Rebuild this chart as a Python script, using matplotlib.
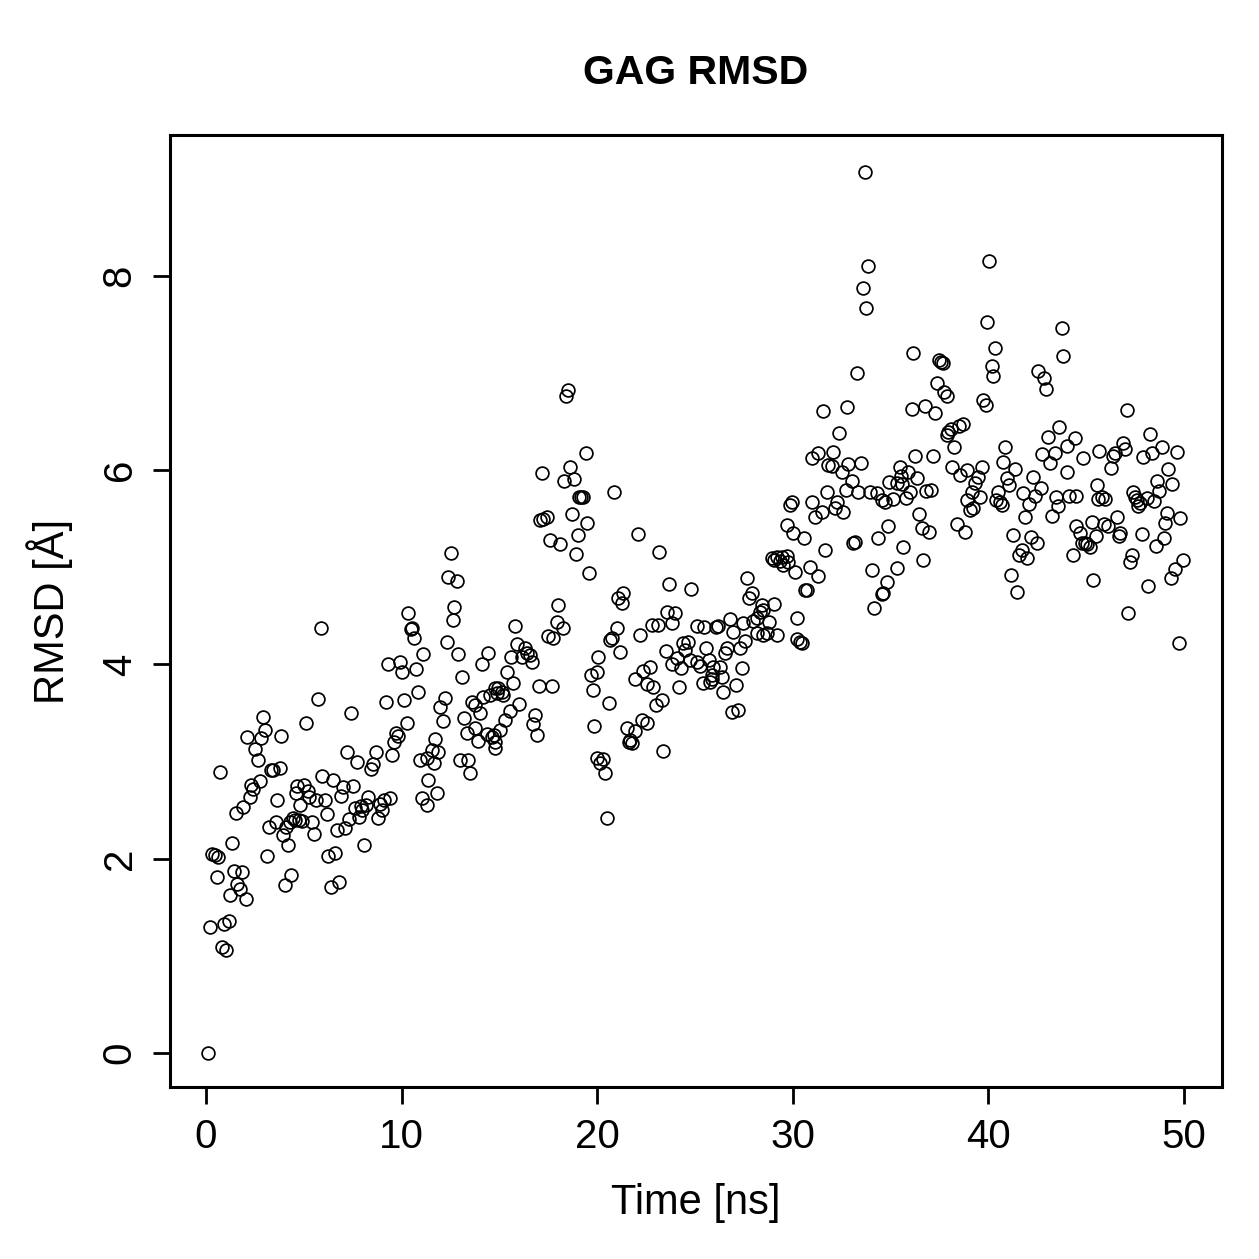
import matplotlib
matplotlib.use("Agg")
import matplotlib.pyplot as plt

plt.rcParams['font.family'] = ['Liberation Sans', 'DejaVu Sans']

# ---- data (time in ns, RMSD in Angstrom) ----
t_00_05 = [0.1, 0.2, 0.3, 0.45, 0.6, 0.55, 0.7, 0.8, 1.0, 0.9, 1.2, 1.25, 1.35, 1.45, 1.55, 1.6,
           1.75, 1.85, 1.9, 2.05, 2.1, 2.25, 2.3, 2.4, 2.5, 2.65, 2.75, 2.8, 2.9, 3.0, 3.1, 3.2,
           3.3, 3.45, 3.6, 3.65, 3.8, 3.85, 3.95, 4.05, 4.2, 4.3, 4.35, 4.45, 4.6, 4.65, 4.75,
           4.8, 4.9, 5.0, 4.1, 4.55]
r_00_05 = [0.00, 1.30, 2.05, 2.04, 2.02, 1.81, 2.89, 1.09, 1.06, 1.33, 1.36, 1.63, 2.16, 1.87, 2.47, 1.74,
           1.69, 1.86, 2.53, 1.59, 3.25, 2.64, 2.76, 2.72, 3.13, 3.02, 2.80, 3.24, 3.46, 3.32, 2.03, 2.33,
           2.91, 2.91, 2.38, 2.60, 2.93, 3.26, 2.24, 1.73, 2.14, 2.38, 1.83, 2.42, 2.68, 2.75, 2.40,
           2.55, 2.39, 2.76, 2.33, 2.40]

t_05_10 = [5.1, 5.25, 5.4, 5.5, 5.6, 5.75, 5.9, 5.95, 6.1, 6.2, 6.25, 6.4, 6.5, 6.6, 6.7, 6.8,
           6.9, 7.0, 7.1, 7.2, 7.3, 7.4, 7.5, 7.6, 7.7, 7.8, 7.9, 8.0, 8.1, 8.2, 8.3, 8.45,
           8.55, 8.7, 8.8, 8.9, 9.0, 9.1, 9.2, 9.3, 9.4, 9.5, 9.6, 9.7, 9.8, 9.9, 10.0, 10.1, 5.2]
r_05_10 = [3.40, 2.64, 2.38, 2.25, 2.60, 3.64, 4.38, 2.85, 2.60, 2.46, 2.03, 1.71, 2.81, 2.06, 2.30, 1.76,
           2.65, 2.74, 2.32, 3.10, 2.41, 3.50, 2.75, 2.52, 3.00, 2.43, 2.54, 2.50, 2.14, 2.55, 2.64, 2.92,
           2.98, 3.10, 2.42, 2.56, 2.50, 2.60, 3.61, 4.00, 2.62, 3.07, 3.20, 3.29, 3.26, 4.03, 3.92, 3.63, 2.70]

t_10_15 = [12.5, 12.35, 12.85, 12.7, 12.65, 10.35, 10.5, 10.55, 10.65, 12.3, 12.9, 11.1, 14.4, 14.1,
           10.75, 13.1, 10.85, 12.2, 11.95, 12.1, 13.6, 13.75, 14.0, 14.15, 14.5, 14.75, 14.9, 13.2,
           13.35, 13.75, 13.9, 14.35, 14.6, 14.75, 14.8, 10.3, 11.7, 11.55, 11.85, 11.3, 10.95, 11.65,
           13.0, 13.4, 13.5, 11.35, 11.8, 11.05, 11.3, 14.7]
r_10_15 = [5.15, 4.90, 4.86, 4.59, 4.46, 4.53, 4.36, 4.38, 4.27, 4.23, 4.11, 4.11, 4.12, 4.00,
           3.95, 3.87, 3.72, 3.65, 3.56, 3.42, 3.61, 3.58, 3.50, 3.66, 3.69, 3.76, 3.71, 3.45,
           3.29, 3.35, 3.21, 3.28, 3.25, 3.14, 3.20, 3.40, 3.23, 3.12, 3.10, 3.04, 3.02, 2.99,
           3.02, 3.02, 2.88, 2.81, 2.68, 2.63, 2.55, 3.27]

t_15_20 = [18.5, 18.4, 19.45, 17.2, 18.6, 18.3, 18.8, 19.05, 19.25, 19.15, 17.1, 17.25, 17.45, 18.7,
           19.5, 19.0, 17.6, 18.1, 18.9, 19.6, 18.0, 17.95, 18.25, 17.5, 17.75, 15.8, 15.9, 16.3,
           16.4, 16.55, 16.15, 16.65, 15.6, 15.4, 15.7, 14.95, 15.2, 15.15, 17.0, 17.7, 16.0, 15.55,
           15.3, 15.05, 16.8, 16.7, 16.9, 19.7, 20.0, 19.8, 20.05, 19.85, 20.0, 20.15]
r_15_20 = [6.83, 6.76, 6.18, 5.97, 6.03, 5.89, 5.91, 5.72, 5.72, 5.72, 5.49, 5.50, 5.52, 5.55,
           5.46, 5.33, 5.28, 5.24, 5.14, 4.94, 4.61, 4.44, 4.38, 4.29, 4.27, 4.40, 4.21, 4.17,
           4.12, 4.10, 4.08, 4.03, 4.08, 3.92, 3.81, 3.76, 3.69, 3.72, 3.78, 3.78, 3.59, 3.52,
           3.43, 3.32, 3.48, 3.39, 3.27, 3.89, 3.92, 3.74, 4.08, 3.37, 3.04, 2.99]

t_20_25 = [20.85, 22.1, 23.15, 23.65, 24.8, 21.05, 21.3, 21.25, 23.55, 24.0, 23.8, 22.8, 23.1, 25.1,
           21.0, 20.75, 20.65, 22.2, 21.15, 23.5, 24.4, 24.65, 24.5, 24.1, 23.8, 24.3, 24.75, 25.1,
           25.25, 22.35, 22.7, 21.95, 22.55, 22.85, 23.0, 23.3, 24.2, 20.6, 22.3, 22.55, 21.5, 21.95,
           21.7, 21.6, 21.8, 23.35, 20.3, 20.4, 20.5]
r_20_25 = [5.77, 5.34, 5.16, 4.83, 4.78, 4.68, 4.74, 4.63, 4.54, 4.53, 4.43, 4.41, 4.41, 4.40,
           4.38, 4.27, 4.25, 4.30, 4.13, 4.14, 4.22, 4.23, 4.15, 4.07, 4.00, 3.96, 4.05, 4.03,
           3.98, 3.93, 3.97, 3.85, 3.80, 3.77, 3.58, 3.63, 3.77, 3.60, 3.43, 3.40, 3.35, 3.31,
           3.22, 3.20, 3.19, 3.11, 3.03, 2.88, 2.42]

t_25_30 = [28.95, 29.05, 29.2, 29.35, 29.45, 29.5, 29.7, 29.75, 30.1, 27.65, 27.9, 27.75, 28.4, 29.05,
           28.3, 28.15, 28.5, 30.2, 26.8, 27.45, 27.95, 28.8, 25.45, 26.05, 26.2, 28.7, 29.2, 28.15,
           28.45, 26.95, 30.2, 30.35, 27.55, 27.3, 26.65, 26.55, 25.55, 25.7, 25.9, 26.3, 25.85,
           26.4, 27.4, 25.4, 25.75, 25.85, 27.1, 26.45, 26.9, 27.2]
r_25_30 = [5.10, 5.07, 5.11, 5.06, 5.11, 5.02, 5.12, 5.05, 4.95, 4.89, 4.74, 4.68, 4.61, 4.62,
           4.54, 4.48, 4.56, 4.48, 4.47, 4.43, 4.45, 4.44, 4.39, 4.39, 4.40, 4.32, 4.30, 4.32,
           4.30, 4.33, 4.26, 4.23, 4.24, 4.17, 4.17, 4.12, 4.17, 4.05, 3.97, 3.97, 3.89,
           3.87, 3.96, 3.81, 3.82, 3.85, 3.79, 3.72, 3.51, 3.53]

t_30_35 = [33.7, 33.85, 33.6, 33.75, 33.3, 31.55, 32.75, 32.35, 31.3, 31.0, 32.05, 31.8, 32.0, 32.8,
           33.5, 32.5, 33.0, 32.7, 34.9, 31.75, 33.35, 33.95, 34.3, 34.55, 34.7, 29.95, 29.85, 31.0,
           32.25, 31.5, 31.15, 32.15, 32.55, 29.7, 30.0, 30.55, 34.85, 34.35, 33.1, 33.2, 31.65,
           30.9, 31.3, 34.05, 30.7, 30.6, 34.8, 34.6, 34.55, 34.15, 30.45]
r_30_35 = [9.07, 8.10, 7.88, 7.67, 7.00, 6.61, 6.65, 6.38, 6.18, 6.13, 6.19, 6.05, 6.04, 6.06,
           6.07, 5.98, 5.89, 5.80, 5.88, 5.78, 5.77, 5.77, 5.76, 5.69, 5.67, 5.67, 5.64, 5.67,
           5.67, 5.57, 5.52, 5.61, 5.57, 5.44, 5.35, 5.30, 5.42, 5.30, 5.25, 5.26, 5.18,
           5.00, 4.91, 4.97, 4.77, 4.77, 4.85, 4.74, 4.72, 4.58, 4.22]

t_35_40 = [36.15, 37.45, 37.55, 37.7, 37.35, 37.75, 37.9, 36.1, 36.75, 37.25, 37.95, 38.1, 38.5, 38.7,
           37.9, 38.25, 36.25, 37.15, 35.5, 35.9, 36.35, 35.55, 35.35, 35.6, 36.0, 35.8, 35.1,
           38.15, 38.55, 38.9, 39.65, 39.45, 39.3, 39.15, 38.9, 39.55, 39.05, 39.2, 36.8, 37.05,
           36.45, 36.6, 36.95, 38.4, 38.8, 35.65, 36.65, 35.3, 39.7, 39.9]
r_35_40 = [7.21, 7.13, 7.11, 7.10, 6.90, 6.80, 6.76, 6.63, 6.66, 6.59, 6.39, 6.42, 6.45, 6.47,
           6.36, 6.24, 6.15, 6.15, 6.03, 5.98, 5.92, 5.94, 5.87, 5.86, 5.78, 5.71, 5.70,
           6.03, 5.95, 6.00, 6.03, 5.93, 5.87, 5.77, 5.69, 5.72, 5.59, 5.61, 5.79, 5.80,
           5.55, 5.40, 5.36, 5.45, 5.36, 5.21, 5.07, 4.99, 6.72, 6.67]

t_40_45 = [40.05, 39.95, 43.75, 40.35, 40.2, 40.25, 43.8, 42.55, 42.85, 42.95, 43.6, 43.05, 44.4, 44.0,
           44.85, 40.85, 42.75, 43.4, 43.15, 44.0, 40.75, 41.35, 40.95, 41.05, 42.3, 42.7, 42.4,
           41.75, 42.05, 41.85, 40.5, 40.6, 40.4, 40.7, 43.45, 43.55, 43.25, 44.1, 44.5, 44.5,
           44.7, 44.8, 44.95, 45.05, 41.25, 42.2, 42.5, 41.7, 41.55, 41.95, 44.3, 41.15, 41.45]
r_40_45 = [8.15, 7.52, 7.46, 7.26, 7.07, 6.97, 7.18, 7.02, 6.95, 6.84, 6.44, 6.34, 6.33, 6.25,
           6.12, 6.24, 6.17, 6.18, 6.07, 5.98, 6.08, 6.01, 5.92, 5.85, 5.93, 5.82, 5.73,
           5.76, 5.65, 5.52, 5.77, 5.67, 5.69, 5.64, 5.72, 5.63, 5.53, 5.73, 5.73, 5.42,
           5.35, 5.25, 5.25, 5.24, 5.33, 5.31, 5.25, 5.18, 5.13, 5.10, 5.13, 4.92, 4.75]

t_45_50 = [47.1, 48.25, 45.65, 46.9, 47.0, 46.45, 46.35, 46.25, 47.9, 48.35, 48.85, 49.65, 49.2,
           48.6, 49.4, 48.7, 45.55, 45.8, 45.95, 45.6, 47.4, 47.5, 47.6, 47.75, 48.1, 48.45, 47.65,
           49.15, 49.8, 49.05, 45.3, 46.55, 45.9, 46.1, 46.75, 46.7, 45.5, 47.85, 48.95, 48.55,
           45.2, 47.35, 47.25, 49.95, 49.55, 49.35, 45.35, 48.15, 47.15, 49.75]
r_45_50 = [6.62, 6.37, 6.20, 6.28, 6.22, 6.18, 6.15, 6.02, 6.14, 6.18, 6.24, 6.19, 6.01,
           5.89, 5.86, 5.79, 5.85, 5.72, 5.70, 5.70, 5.77, 5.72, 5.69, 5.66, 5.71, 5.68, 5.63,
           5.56, 5.51, 5.46, 5.47, 5.52, 5.45, 5.43, 5.35, 5.32, 5.32, 5.34, 5.30, 5.22,
           5.21, 5.13, 5.05, 5.08, 4.98, 4.89, 4.87, 4.81, 4.53, 4.22]

time_ns = (t_00_05 + t_05_10 + t_10_15 + t_15_20 + t_20_25 +
           t_25_30 + t_30_35 + t_35_40 + t_40_45 + t_45_50)
rmsd = (r_00_05 + r_05_10 + r_10_15 + r_15_20 + r_20_25 +
        r_25_30 + r_30_35 + r_35_40 + r_40_45 + r_45_50)

x_ticks = [0, 10, 20, 30, 40, 50]
y_ticks = [0, 2, 4, 6, 8]

# ---- figure ----
fig = plt.figure(figsize=(12.59, 12.59), dpi=100)
ax = fig.add_axes([170 / 1259, 1 - 1087 / 1259, (1222 - 170) / 1259, (1087 - 135) / 1259])

ax.plot(time_ns, rmsd, linestyle='none', marker='o', markersize=9.2,
        markerfacecolor='none', markeredgecolor='black', markeredgewidth=1.25)

ax.set_xlim(-1.84, 51.94)
ax.set_ylim(-0.35, 9.45)
ax.set_xticks(x_ticks)
ax.set_yticks(y_ticks)
ax.set_xticklabels([str(v) for v in x_ticks])
ax.set_yticklabels([str(v) for v in y_ticks], rotation=90, va='center')

for sp in ax.spines.values():
    sp.set_linewidth(2.2)
ax.tick_params(axis='both', direction='out', length=12.5, width=2.0, labelsize=29)
ax.tick_params(axis='x', pad=10)
ax.tick_params(axis='y', pad=10)

ax.set_xlabel('Time [ns]', fontsize=30, va='center')
ax.xaxis.set_label_coords(0.5, (1087 - 1203) / 952)
ax.set_ylabel('RMSD [Å]', fontsize=30, va='center')
ax.yaxis.set_label_coords((50 - 170) / 1052, 0.5)

ax.set_title('GAG RMSD', fontsize=29.5, fontweight='bold', y=1 + (135 - 84) / 952, pad=0)

fig.savefig('out.png', dpi=100)
